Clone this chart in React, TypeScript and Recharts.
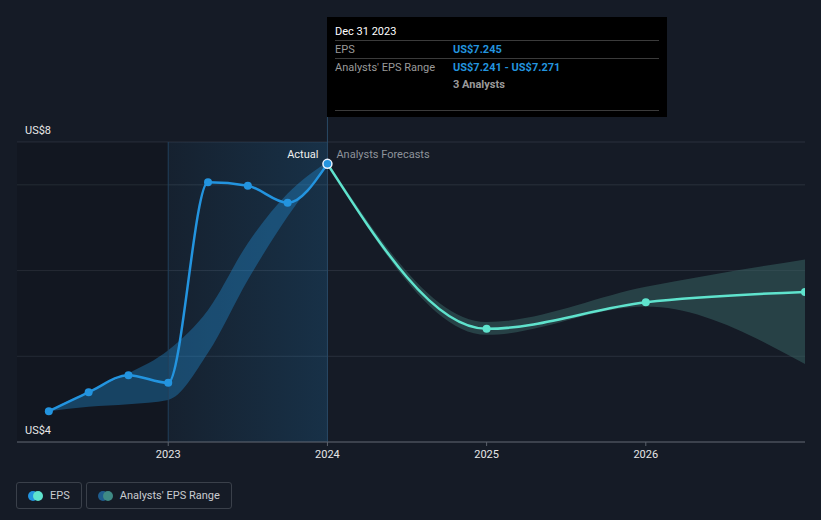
import {
  Area,
  CartesianGrid,
  ComposedChart,
  Line,
  ReferenceArea,
  ReferenceLine,
  XAxis,
  YAxis,
} from "recharts";

// reported EPS, quarterly (fractional year of period end)
const actualDates = [2022.25, 2022.5, 2022.75, 2023.0, 2023.25, 2023.5, 2023.75, 2024.0];
const actualEps = [4.36, 4.58, 4.78, 4.69, 7.03, 6.99, 6.79, 7.245];
const pastRangeLow = [4.36, 4.41, 4.44, 4.49, 5.04, 5.89, 6.63, 7.241];
const pastRangeHigh = [4.37, 4.59, 4.8, 5.07, 5.54, 6.32, 6.9, 7.271];

// analysts' forecast, yearly
const forecastDates = [2024.0, 2025.0, 2026.0, 2027.0];
const forecastEps = [7.245, 5.32, 5.63, 5.75];
const forecastLow = [7.241, 5.25, 5.58, 4.91];
const forecastHigh = [7.271, 5.4, 5.81, 6.13];

const yearTicks = [2023, 2024, 2025, 2026];
const valueTicks = [4, 5, 6, 7, 7.5];
const analystsCount = 3;
const tooltipDate = "Dec 31 2023";

const X_MIN = 2022.05;
const X_MAX = 2027;
const Y_MIN = 4;
const Y_MAX = 7.5;

const BLUE = "#2394df";
const TEAL = "#5fe3cd";
const FONT = "Roboto, 'Noto Sans', sans-serif";

type Row = {
  t: number;
  eps?: number;
  forecast?: number;
  pastRange?: [number, number];
  futRange?: [number, number];
};

const buildRows = (): Row[] => {
  const map = new Map<number, Row>();
  const get = (t: number) => {
    if (!map.has(t)) map.set(t, { t });
    return map.get(t)!;
  };
  actualDates.forEach((t, i) => {
    const r = get(t);
    r.eps = actualEps[i];
    r.pastRange = [pastRangeLow[i], pastRangeHigh[i]];
  });
  forecastDates.forEach((t, i) => {
    const r = get(t);
    r.forecast = forecastEps[i];
    r.futRange = [forecastLow[i], forecastHigh[i]];
  });
  return Array.from(map.values()).sort((a, b) => a.t - b.t);
};

const rows = buildRows();
const lastActual = actualDates.length - 1;

const fmt = (v: number) => `US$${v.toFixed(3)}`;

const YTick = (props: any) => {
  const { y, payload } = props;
  const v = payload.value;
  if (v !== Y_MIN && v !== Y_MAX) return null;
  return (
    <text x={25} y={y - 8} fill="#e8e8e8" fontSize={11} fontFamily={FONT}>
      {`US$${Math.round(v)}`}
    </text>
  );
};

const EpsDot = (props: any) => {
  const { cx, cy, index } = props;
  if (cx == null || cy == null) return null;
  if (index === lastActual) {
    return <circle key={index} cx={cx} cy={cy} r={4.5} fill={BLUE} stroke="#e8f2ff" strokeWidth={1.5} />;
  }
  return <circle key={index} cx={cx} cy={cy} r={4} fill={BLUE} />;
};

const ForecastDot = (props: any) => {
  const { cx, cy, payload, index } = props;
  if (cx == null || cy == null || payload.t === actualDates[lastActual]) return <g key={index} />;
  return <circle key={index} cx={cx} cy={cy} r={4} fill={TEAL} />;
};

const DividerLabel = (props: any) => {
  const { viewBox } = props;
  const x = viewBox.x;
  const y = viewBox.y;
  return (
    <g fontFamily={FONT} fontSize={11}>
      <text x={x - 9} y={y + 16} textAnchor="end" fill="#f0f0f0">
        Actual
      </text>
      <text x={x + 9} y={y + 16} fill="#8e939b">
        Analysts Forecasts
      </text>
    </g>
  );
};

const LegendItem = ({ label, c1, c2 }: { label: string; c1: string; c2: string }) => (
  <div
    style={{
      display: "flex",
      alignItems: "center",
      height: 25,
      padding: "0 11px 0 11px",
      border: "1px solid #3a404a",
      borderRadius: 3,
      marginRight: 4,
    }}
  >
    <span style={{ position: "relative", width: 15, height: 10, marginRight: 7 }}>
      <span style={{ position: "absolute", left: 0, top: 0, width: 10, height: 10, borderRadius: 5, background: c1 }} />
      <span style={{ position: "absolute", left: 5, top: 0, width: 10, height: 10, borderRadius: 5, background: c2 }} />
    </span>
    <span style={{ color: "#c9ccd1", fontSize: 11 }}>{label}</span>
  </div>
);

const TooltipBox = () => {
  const rowStyle: React.CSSProperties = {
    display: "flex",
    height: 17,
    alignItems: "center",
    borderTop: "1px solid #3b3b3b",
  };
  return (
    <div
      style={{
        position: "absolute",
        left: 327,
        top: 17,
        width: 340,
        height: 100,
        background: "#000",
        fontFamily: FONT,
        fontSize: 11,
        boxSizing: "border-box",
        padding: "6px 8px 0 8px",
      }}
    >
      <div style={{ color: "#fff", height: 17, display: "flex", alignItems: "center" }}>{tooltipDate}</div>
      <div style={rowStyle}>
        <span style={{ width: 118, color: "#9a9a9a" }}>EPS</span>
        <span style={{ color: BLUE, fontWeight: 700 }}>{fmt(actualEps[lastActual])}</span>
      </div>
      <div style={rowStyle}>
        <span style={{ width: 118, color: "#9a9a9a" }}>Analysts' EPS Range</span>
        <span style={{ color: BLUE, fontWeight: 700 }}>
          {fmt(pastRangeLow[lastActual])} - {fmt(pastRangeHigh[lastActual])}
        </span>
      </div>
      <div style={{ display: "flex", height: 17, alignItems: "center" }}>
        <span style={{ width: 118 }} />
        <span style={{ color: "#9a9a9a", fontWeight: 700 }}>{analystsCount} Analysts</span>
      </div>
      <div style={{ borderTop: "1px solid #3b3b3b", marginTop: 17 }} />
    </div>
  );
};

export default function App() {
  return (
    <div
      style={{
        position: "absolute",
        left: 0,
        top: 0,
        width: 821,
        height: 520,
        background: "#151b26",
        fontFamily: FONT,
        overflow: "hidden",
      }}
    >
      <ComposedChart
        width={821}
        height={520}
        data={rows}
        margin={{ top: 142, right: 16, bottom: 48, left: 0 }}
      >
        <defs>
          <linearGradient id="pastGlow" x1="0" y1="0" x2="1" y2="0">
            <stop offset="0%" stopColor={BLUE} stopOpacity={0.05} />
            <stop offset="100%" stopColor={BLUE} stopOpacity={0.18} />
          </linearGradient>
        </defs>
        <ReferenceArea x1={X_MIN} x2={yearTicks[0]} y1={Y_MIN} y2={Y_MAX} fill="#000" fillOpacity={0.12} stroke="none" />
        <ReferenceArea x1={yearTicks[0]} x2={actualDates[lastActual]} y1={Y_MIN} y2={Y_MAX} fill="url(#pastGlow)" fillOpacity={1} stroke="none" />
        <CartesianGrid vertical={false} stroke="#2a313c" strokeWidth={1} />
        <XAxis
          dataKey="t"
          type="number"
          domain={[X_MIN, X_MAX]}
          ticks={yearTicks}
          height={30}
          tickSize={4}
          tickMargin={4}
          stroke="#5b616b"
          tick={{ fill: "#e6e6e6", fontSize: 11, fontFamily: FONT }}
          allowDataOverflow
        />
        <YAxis
          type="number"
          domain={[Y_MIN, Y_MAX]}
          ticks={valueTicks}
          width={17}
          axisLine={false}
          tickLine={false}
          tick={<YTick />}
          allowDataOverflow
        />
        <ReferenceLine x={yearTicks[0]} stroke="#22405c" />
        <ReferenceLine
          segment={[
            { x: actualDates[lastActual], y: Y_MIN },
            { x: actualDates[lastActual], y: 7.8 },
          ]}
          stroke="#2a4a66"
          ifOverflow="visible"
        />
        <ReferenceLine x={actualDates[lastActual]} stroke="none" label={<DividerLabel />} />
        <Area
          dataKey="pastRange"
          type="monotone"
          fill={BLUE}
          fillOpacity={0.35}
          stroke="none"
          connectNulls
          isAnimationActive={false}
          activeDot={false}
        />
        <Area
          dataKey="futRange"
          type="monotone"
          fill="#366060"
          fillOpacity={0.55}
          stroke="none"
          connectNulls
          isAnimationActive={false}
          activeDot={false}
        />
        <Line
          dataKey="forecast"
          type="monotone"
          stroke={TEAL}
          strokeWidth={2.5}
          dot={<ForecastDot />}
          connectNulls
          isAnimationActive={false}
          activeDot={false}
        />
        <Line
          dataKey="eps"
          type="monotone"
          stroke={BLUE}
          strokeWidth={2.5}
          dot={<EpsDot />}
          connectNulls
          isAnimationActive={false}
          activeDot={false}
        />
      </ComposedChart>
      <TooltipBox />
      <div style={{ position: "absolute", left: 16, top: 482, display: "flex" }}>
        <LegendItem label="EPS" c1={BLUE} c2={TEAL} />
        <LegendItem label="Analysts' EPS Range" c1="#1f5d8e" c2="#3f8a85" />
      </div>
    </div>
  );
}
